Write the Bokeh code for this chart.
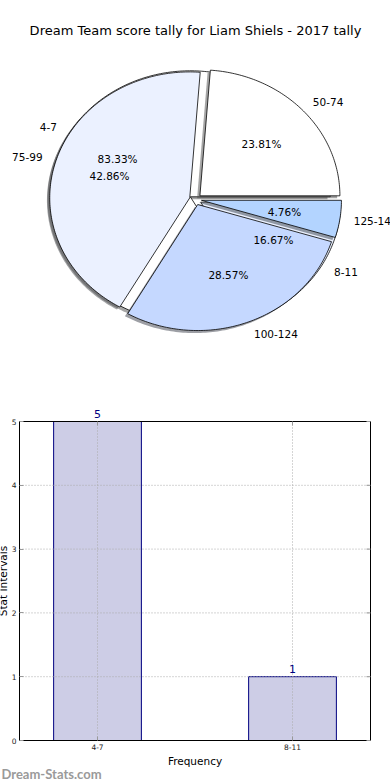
import math
from bokeh.plotting import figure
from bokeh.models import Range1d, FixedTicker, LabelSet, ColumnDataSource
from bokeh.embed import file_html
from bokeh.resources import INLINE
from bokeh.core.properties import value

# ---------------- data ----------------
title_text = "Dream Team score tally for Liam Shiels - 2017 tally"
score_labels = ["50-74", "75-99", "100-124", "125-149"]
score_pcts = [23.81, 42.86, 28.57, 4.76]
freq_labels = ["4-7", "8-11"]
freq_pcts = [83.33, 16.67]
bar_categories = ["4-7", "8-11"]
bar_counts = [5, 1]
y_ticks = [0, 1, 2, 3, 4, 5]
x_axis_title = "Frequency"
y_axis_title = "Stat Intervals"
watermark = "Dream-Stats.com"

# ---------------- styles ----------------
pie_colors = ["#ffffff", "#ebf1ff", "#c5d8ff", "#b3d4ff"]
FONT = "DejaVu Sans"
CX, CY, RX, RY = 195.0, 199.0, 140.0, 126.0
EXPLODE = 0.043
LABEL_DIST = 1.1
PCT_DIST = 0.6


def wedge_angles(pcts):
    total = float(sum(pcts))
    a = 0.0
    out = []
    for v in pcts:
        span = 360.0 * v / total
        out.append((a, a + span))
        a += span
    return out


def wedge_poly(a0, a1, dx=0.0, dy=0.0):
    mid = math.radians((a0 + a1) / 2.0)
    ox = CX + EXPLODE * RX * math.cos(mid) + dx
    oy = CY - EXPLODE * RY * math.sin(mid) + dy
    n = max(int(abs(a1 - a0)), 4)
    xs, ys = [ox], [oy]
    for i in range(n + 1):
        t = math.radians(a0 + (a1 - a0) * i / n)
        xs.append(ox + RX * math.cos(t))
        ys.append(oy - RY * math.sin(t))
    return xs, ys


def label_pos(a0, a1, dist):
    mid = math.radians((a0 + a1) / 2.0)
    x = CX + (EXPLODE + dist) * RX * math.cos(mid)
    y = CY - (EXPLODE + dist) * RY * math.sin(mid)
    return x, y, math.cos(mid)


def shade(hexcol, f=0.3):
    r = int(hexcol[1:3], 16); g = int(hexcol[3:5], 16); b = int(hexcol[5:7], 16)
    return "#%02x%02x%02x" % (int(r * f), int(g * f), int(b * f))


# ---------------- pie figure ----------------
p = figure(width=390, height=388, x_range=Range1d(0, 390), y_range=Range1d(388, 0),
           output_backend="svg", toolbar_location=None,
           x_axis_location=None, y_axis_location=None, min_border=0)
p.outline_line_color = None
p.grid.visible = False
p.background_fill_color = "white"
p.border_fill_color = "white"

label_rows = dict(x=[], y=[], text=[], align=[])
pct_rows = dict(x=[], y=[], text=[])

for labels, pcts in [(freq_labels, freq_pcts), (score_labels, score_pcts)]:
    angs = wedge_angles(pcts)
    cols = [pie_colors[i % len(pie_colors)] for i in range(len(pcts))]
    sx, sy, wx, wy = [], [], [], []
    for (a0, a1) in angs:
        xs, ys = wedge_poly(a0, a1, dx=-0.02 * RX, dy=0.02 * RY)
        sx.append(xs); sy.append(ys)
        xs, ys = wedge_poly(a0, a1)
        wx.append(xs); wy.append(ys)
    p.patches(xs=sx, ys=sy, fill_color=[shade(c) for c in cols], fill_alpha=0.5, line_color=None)
    p.patches(xs=wx, ys=wy, fill_color=cols, line_color="black", line_width=0.8)
    for lab, v, (a0, a1) in zip(labels, pcts, angs):
        x, y, c = label_pos(a0, a1, LABEL_DIST)
        label_rows["x"].append(x); label_rows["y"].append(y)
        label_rows["text"].append(lab)
        label_rows["align"].append("left" if c > 0 else "right")
        x, y, c = label_pos(a0, a1, PCT_DIST)
        pct_rows["x"].append(x); pct_rows["y"].append(y)
        pct_rows["text"].append("%.2f%%" % v)

p.text(x="x", y="y", text="text", text_align="align", source=ColumnDataSource(label_rows),
       text_baseline="middle", text_font=value(FONT), text_font_size=value("10.5px"),
       text_color="#000000")
p.text(x="x", y="y", text="text", source=ColumnDataSource(pct_rows),
       text_align="center", text_baseline="middle", text_font=value(FONT),
       text_font_size=value("10.5px"), text_color="#000000")
p.text(x=[195], y=[30], text=[title_text], text_align="center", text_baseline="middle",
       text_font=value(FONT), text_font_size=value("13px"), text_color="#000000")

# ---------------- bar figure ----------------
xs_idx = list(range(len(bar_categories)))
y_top = y_ticks[-1]
AX_X0, AX_X1 = -0.4, 1.4          # extent of the axes box in x data units
PX_X, PX_Y = 195.0, 63.8          # pixels per data unit
M_LEFT, M_RIGHT, M_TOP, M_BOTTOM = 19, 20, 33, 40

b = figure(width=390, height=392,
           x_range=Range1d(AX_X0 - M_LEFT / PX_X, AX_X1 + M_RIGHT / PX_X),
           y_range=Range1d(0 - M_BOTTOM / PX_Y, y_top + M_TOP / PX_Y),
           output_backend="svg", toolbar_location=None, min_border=0)
b.background_fill_color = "white"
b.border_fill_color = "white"
b.outline_line_color = None
b.grid.visible = False

b.vbar(x=xs_idx, top=bar_counts, width=0.45, fill_color="#cdcde6",
       line_color="#000080", line_width=1)

# dotted grid inside the axes box
grid_style = dict(line_color="#aaaaaa", line_dash="1 2", line_width=1)
b.segment(x0=xs_idx, y0=[0] * len(xs_idx), x1=xs_idx, y1=[y_top] * len(xs_idx), **grid_style)
b.segment(x0=[AX_X0] * len(y_ticks), y0=y_ticks, x1=[AX_X1] * len(y_ticks), y1=y_ticks,
          **grid_style)

# axes box
b.quad(left=[AX_X0], right=[AX_X1], bottom=[0], top=[y_top], fill_color=None,
       line_color="black", line_width=1)

# inner tick marks on top and right edges
b.ray(x=xs_idx, y=[y_top] * len(xs_idx), length=4, length_units="screen",
      angle=-math.pi / 2, line_color="#999999", line_width=1)
b.ray(x=[AX_X1] * len(y_ticks), y=y_ticks, length=4, length_units="screen",
      angle=math.pi, line_color="#999999", line_width=1)

xa = b.xaxis[0]
ya = b.yaxis[0]
xa.fixed_location = 0
ya.fixed_location = AX_X0
xa.bounds = (AX_X0, AX_X1)
ya.bounds = (0, y_top)
xa.ticker = FixedTicker(ticks=xs_idx)
xa.major_label_overrides = {i: c for i, c in enumerate(bar_categories)}
ya.ticker = FixedTicker(ticks=y_ticks)
for ax in (xa, ya):
    ax.axis_line_color = None
    ax.major_tick_in = 4
    ax.major_tick_out = 0
    ax.major_tick_line_color = "#999999"
    ax.minor_tick_line_color = None
    ax.major_label_text_font = FONT
    ax.major_label_text_font_size = "7.5px"
    ax.major_label_text_color = "#222222"
    ax.major_label_standoff = 3
    ax.axis_label_text_font = FONT
    ax.axis_label_text_font_size = "10.5px"
    ax.axis_label_text_font_style = "normal"
    ax.axis_label_text_color = "#000000"
xa.axis_label = x_axis_title
xa.axis_label_standoff = 2
ya.axis_label = y_axis_title
ya.axis_label_standoff = 0

val_src = ColumnDataSource(dict(x=xs_idx, y=bar_counts, t=[str(c) for c in bar_counts]))
b.add_layout(LabelSet(x="x", y="y", text="t", source=val_src, text_align="center",
                      text_baseline="alphabetic", y_offset=4, text_color="#000080",
                      text_font=value(FONT), text_font_size=value("11px")))

b.text(x=[b.x_range.start + 1 / PX_X], y=[-33 / PX_Y], text=[watermark], text_align="left",
       text_baseline="alphabetic", text_font=value("Lato"), text_font_size=value("13px"),
       text_font_style="bold", text_color="#9a9a9a")

open("out.html", "w").write(file_html([p, b], INLINE))
